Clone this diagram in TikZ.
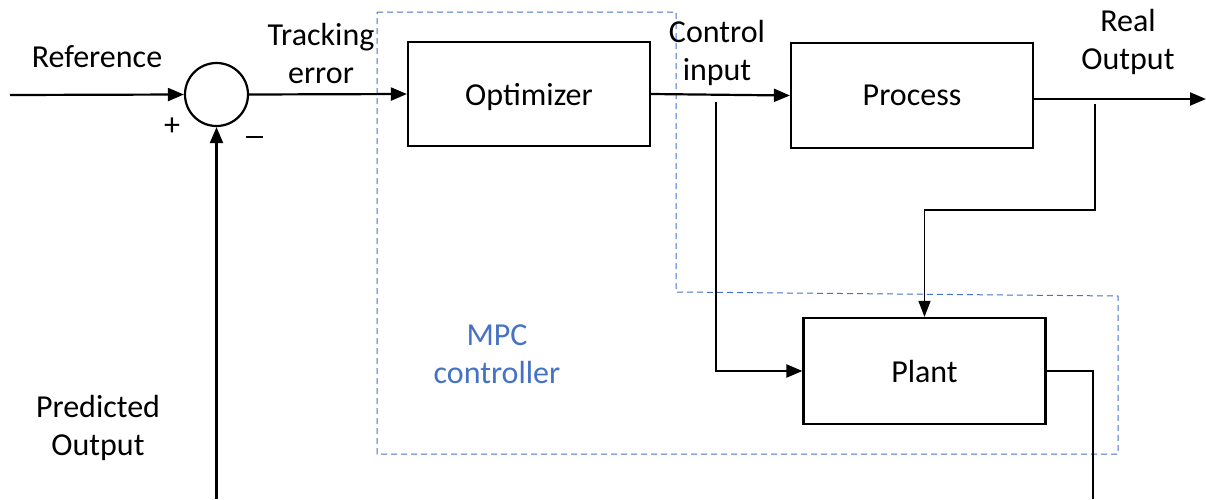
\documentclass[tikz,border=0pt]{standalone}
\usepackage{fontspec}
\setmainfont{Carlito}
\usetikzlibrary{arrows.meta,calc}
\definecolor{mpcblue}{HTML}{4472C4}
\tikzset{
  blk/.style={draw, line width=1.1pt, minimum width=121pt, minimum height=52pt, inner sep=0pt, text depth=0pt, font=\fontsize{16}{19}\selectfont},
  lbl/.style={align=center, inner sep=0pt, font=\fontsize{16}{19}\selectfont},
  sig/.style={line width=1.1pt, -{Triangle[length=8pt,width=6.5pt]}},
  thin/.style={line width=0.6pt},
  thinsig/.style={line width=0.6pt, -{Triangle[length=8pt,width=6pt]}},
  mpcbox/.style={draw=mpcblue, line width=0.5pt, dash pattern=on 3pt off 2pt}
}
\begin{document}
\begin{tikzpicture}[x=0.5pt,y=-0.5pt]
\useasboundingbox (0,0) rectangle (1206,499);
% MPC dashed region
\draw[mpcbox] (377,12) -- (676,12) -- (676,292) -- (1118,296) -- (1118,454) -- (377,454) -- cycle;
\node[lbl, text=mpcblue] (mpc) at (497,354) {MPC\\controller};
% blocks
\node[draw, circle, line width=1.1pt, minimum size=31.5pt, inner sep=0pt] (sum) at (216.5,94.5) {};
\node[blk] (opt) at (529,94) {Optimizer};
\node[blk, minimum height=52.5pt] (proc) at (912,95.5) {Process};
\node[blk, minimum height=53pt] (plant) at (924.5,371) {Plant};
% labels
\node[lbl] (ref) at (97,57) {Reference};
\node[lbl] (track) at (321,53) {Tracking\\error};
\node[lbl] (ctrl) at (717,53) {Control\\input};
\node[lbl] (real) at (1128,42) {Real\\Output};
\node[lbl] (pred) at (98,428) {Predicted\\Output};
\node[lbl] (plus) at (172,127) {+};
\node[lbl] (minus) at (254,141) {\rule[0.25em]{8.5pt}{0.9pt}};
% coordinates
\coordinate (in) at (10,95);
\coordinate (out) at (1206,99);
\coordinate (ci) at (716,102);
\coordinate (ro) at (1095,104);
\coordinate (po) at (1093,499);
\coordinate (pb) at (216.5,499);
% connectors
\draw[sig] (in) -- (sum.west);
\draw[sig] (sum.east) -- (opt.west);
\draw[sig] (opt.east) -- (proc.west);
\draw[sig] (proc.east |- out) -- (out);
\draw[sig] (ci) |- (plant.west);
\draw[thinsig] (ro) -- ++(0,106) -| (plant.north);
\draw[thin] (plant.east) -| (po);
\draw[sig] (pb) -- (sum.south);
\end{tikzpicture}
\end{document}
